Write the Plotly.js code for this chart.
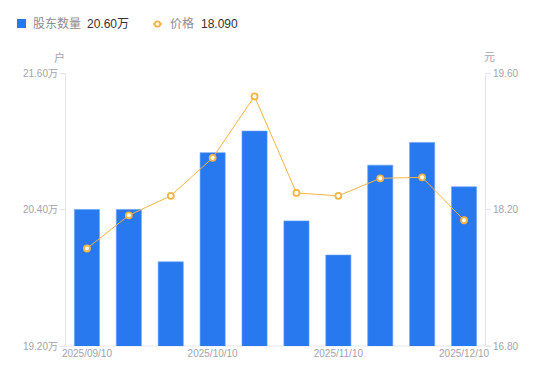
<!DOCTYPE html>
<html>
<head>
<meta charset="utf-8">
<script src="https://cdn.plot.ly/plotly-3.0.1.min.js"></script>
<style>html,body{margin:0;padding:0;background:#fff;}#chart{width:550px;height:381px;}</style>
</head>
<body>
<div id="chart"></div>
<script>
var dates = ['2025/09/10','2025/09/20','2025/09/30','2025/10/10','2025/10/20','2025/10/31','2025/11/10','2025/11/20','2025/11/30','2025/12/10'];
var holders = [20.40, 20.40, 19.94, 20.90, 21.09, 20.30, 20.00, 20.79, 20.99, 20.60];
var prices = [17.80, 18.14, 18.34, 18.73, 19.36, 18.37, 18.34, 18.52, 18.53, 18.09];
var xTickLabels = ['2025/09/10','2025/10/10','2025/11/10','2025/12/10'];
var leftTicks = [19.20, 20.40, 21.60];
var rightTicks = [16.80, 18.20, 19.60];

var W = 550, H = 381, L = 66, R = 65, T = 73, B = 35;
var pw = W - L - R, ph = H - T - B;
function px(x){ return (x - L) / pw; }
function py(y){ return (H - B - y) / ph; }

var font = '"Liberation Sans", "Noto Sans CJK SC", Arial, sans-serif';
var tickColor = '#a3a3ad';
var axisColor = '#e6e6ea';
var blue = '#2878f0';
var orange = '#f7b443';

var traces = [
  {type:'bar', x:dates, y:holders, marker:{color:blue, line:{color:'#6aa2f5', width:0.6}}, yaxis:'y', hoverinfo:'skip'},
  {type:'scatter', mode:'lines+markers', x:dates, y:prices, yaxis:'y2',
   line:{color:orange, width:1}, marker:{symbol:'circle', size:6, color:'#ffffff', line:{color:orange, width:1.8}}, hoverinfo:'skip'}
];

var lastH = holders[holders.length-1].toFixed(2) + '万';
var lastP = prices[prices.length-1].toFixed(3);

var layout = {
  width:W, height:H, margin:{l:L, r:R, t:T, b:B},
  paper_bgcolor:'#fff', plot_bgcolor:'#fff',
  font:{family:font, size:10, color:tickColor},
  showlegend:false, bargap:0.4,
  xaxis:{type:'category', range:[-0.5, dates.length - 0.5], tickmode:'array', tickvals:xTickLabels, ticktext:xTickLabels,
    showgrid:false, zeroline:false, showline:false, ticks:'', tickfont:{size:10, color:tickColor}, automargin:false},
  yaxis:{range:[leftTicks[0], leftTicks[2]], tickvals:leftTicks, ticktext:leftTicks.map(function(v){return v.toFixed(2)+'万';}),
    showgrid:false, zeroline:false, showline:true, linecolor:axisColor, linewidth:1, ticks:'outside', ticklen:5, tickcolor:axisColor,
    tickfont:{size:10, color:tickColor}, automargin:false},
  yaxis2:{range:[rightTicks[0], rightTicks[2]], tickvals:rightTicks, ticktext:rightTicks.map(function(v){return v.toFixed(2);}),
    overlaying:'y', side:'right', showgrid:false, zeroline:false, showline:true, linecolor:axisColor, linewidth:1, ticks:'outside', ticklen:5, tickcolor:axisColor,
    tickfont:{size:10, color:tickColor}, automargin:false},
  shapes:[
    {type:'line', xref:'paper', yref:'paper', x0:px(61), x1:px(490), y0:0, y1:0, line:{color:axisColor, width:1}, layer:'below'},
    {type:'rect', xref:'paper', yref:'paper', x0:px(17), x1:px(26), y0:py(19), y1:py(28), fillcolor:blue, line:{width:0}},
    {type:'line', xref:'paper', yref:'paper', x0:px(153), x1:px(162), y0:py(24), y1:py(24), line:{color:orange, width:1.5}},
    {type:'circle', xref:'paper', yref:'paper', x0:px(154.8), x1:px(160.2), y0:py(21.3), y1:py(26.7), fillcolor:'#fff', line:{color:orange, width:1.8}}
  ],
  annotations:[
    {xref:'paper', yref:'paper', x:px(31), y:py(24), xanchor:'left', yanchor:'middle', text:'股东数量', showarrow:false, font:{size:12, color:'#8c8c96'}},
    {xref:'paper', yref:'paper', x:px(85), y:py(24), xanchor:'left', yanchor:'middle', text:lastH, showarrow:false, font:{size:12, color:'#333'}},
    {xref:'paper', yref:'paper', x:px(168), y:py(24), xanchor:'left', yanchor:'middle', text:'价格', showarrow:false, font:{size:12, color:'#8c8c96'}},
    {xref:'paper', yref:'paper', x:px(199), y:py(24), xanchor:'left', yanchor:'middle', text:lastP, showarrow:false, font:{size:12, color:'#333'}},
    {xref:'paper', yref:'paper', x:px(59), y:py(57), xanchor:'center', yanchor:'middle', text:'户', showarrow:false, font:{size:11, color:tickColor}},
    {xref:'paper', yref:'paper', x:px(490), y:py(57), xanchor:'center', yanchor:'middle', text:'元', showarrow:false, font:{size:11, color:tickColor}}
  ]
};

Plotly.newPlot('chart', traces, layout, {staticPlot:true, displayModeBar:false});
</script>
</body>
</html>
